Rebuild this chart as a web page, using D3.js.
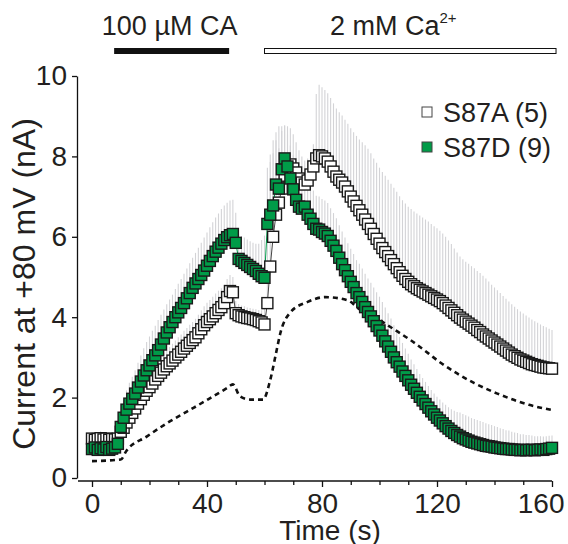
<!DOCTYPE html>
<html>
<head>
<meta charset="utf-8">
<script src="https://cdn.jsdelivr.net/npm/d3@7"></script>
<style>
body { margin: 0; background: #fff; }
svg text { font-family: "Liberation Sans", Arial, sans-serif; fill: #231f20; }
</style>
</head>
<body>
<div id="chart"></div>
<script>
// sample times (s), one sweep per second
var times = d3.range(0, 161);

// S87A (5) mean current (nA) and upward SEM
var s87aMean = [
	0.98, 0.95, 0.97, 0.99, 0.96, 0.98, 0.95, 0.97, 0.96, 0.98,
	1.15, 1.25, 1.38, 1.50, 1.62, 1.73, 1.85, 1.96, 2.07, 2.17,
	2.26, 2.35, 2.45, 2.54, 2.62, 2.70, 2.78, 2.85, 2.92, 3.00,
	3.07, 3.14, 3.22, 3.29, 3.36, 3.43, 3.50, 3.60, 3.70, 3.80,
	3.88, 3.95, 4.02, 4.10, 4.18, 4.25, 4.35, 4.50, 4.65, 4.62,
	4.10, 4.05, 4.02, 4.00, 3.98, 3.97, 3.95, 3.93, 3.90, 3.87,
	3.82, 4.35, 5.26, 6.00, 6.55, 6.85, 7.20, 7.52, 7.70, 7.80,
	7.70, 7.60, 7.45, 7.35, 7.30, 7.40, 7.55, 7.75, 7.95, 8.03,
	8.00, 7.95, 7.87, 7.75, 7.62, 7.50, 7.42, 7.35, 7.25, 7.13,
	7.00, 6.88, 6.77, 6.66, 6.55, 6.43, 6.32, 6.20, 6.07, 5.95,
	5.83, 5.72, 5.62, 5.52, 5.42, 5.32, 5.22, 5.12, 5.03, 4.95,
	4.88, 4.82, 4.77, 4.72, 4.68, 4.64, 4.60, 4.56, 4.52, 4.48,
	4.44, 4.40, 4.35, 4.29, 4.23, 4.17, 4.11, 4.05, 3.99, 3.94,
	3.89, 3.84, 3.79, 3.74, 3.68, 3.63, 3.57, 3.52, 3.47, 3.42,
	3.37, 3.32, 3.27, 3.22, 3.17, 3.12, 3.07, 3.03, 2.99, 2.95,
	2.92, 2.89, 2.86, 2.83, 2.81, 2.79, 2.77, 2.75, 2.74, 2.73, 2.72
];
var s87aErr = [
	0.15, 0.16, 0.15, 0.17, 0.16, 0.15, 0.16, 0.17, 0.16, 0.18,
	0.22, 0.25, 0.28, 0.30, 0.32, 0.33, 0.34, 0.35, 0.36, 0.37,
	0.38, 0.38, 0.39, 0.39, 0.40, 0.40, 0.41, 0.41, 0.42, 0.42,
	0.43, 0.43, 0.44, 0.44, 0.45, 0.45, 0.46, 0.46, 0.47, 0.47,
	0.48, 0.48, 0.49, 0.49, 0.48, 0.47, 0.46, 0.45, 0.40, 0.38,
	0.30, 0.28, 0.27, 0.27, 0.26, 0.26, 0.26, 0.27, 0.28, 0.30,
	0.40, 1.50, 2.60, 2.40, 2.05, 1.90, 1.55, 1.25, 1.05, 0.90,
	0.85, 0.75, 0.70, 0.65, 0.60, 0.55, 0.50, 0.55, 1.60, 1.75,
	1.72, 1.70, 1.70, 1.70, 1.70, 1.69, 1.68, 1.67, 1.66, 1.68,
	1.70, 1.72, 1.74, 1.76, 1.80, 1.85, 1.87, 1.88, 1.88, 1.89,
	1.89, 1.89, 1.90, 1.90, 1.90, 1.90, 1.90, 1.89, 1.88, 1.88,
	1.87, 1.87, 1.86, 1.86, 1.85, 1.84, 1.83, 1.82, 1.80, 1.78,
	1.77, 1.75, 1.73, 1.71, 1.68, 1.65, 1.60, 1.56, 1.52, 1.50,
	1.49, 1.49, 1.48, 1.48, 1.47, 1.47, 1.46, 1.44, 1.42, 1.39,
	1.37, 1.35, 1.33, 1.31, 1.29, 1.27, 1.25, 1.23, 1.21, 1.19,
	1.17, 1.15, 1.13, 1.11, 1.09, 1.07, 1.05, 1.03, 1.01, 0.98, 0.96
];

// S87D (9) mean current (nA) and upward SEM
var s87dMean = [
	0.72, 0.76, 0.70, 0.74, 0.71, 0.77, 0.70, 0.73, 0.76, 0.85,
	1.27, 1.50, 1.70, 1.85, 1.97, 2.10, 2.25, 2.40, 2.55, 2.68,
	2.80, 2.93, 3.05, 3.18, 3.32, 3.47, 3.62, 3.75, 3.88, 4.00,
	4.12, 4.23, 4.35, 4.47, 4.60, 4.73, 4.84, 4.95, 5.05, 5.16,
	5.28, 5.40, 5.52, 5.63, 5.73, 5.83, 5.92, 5.99, 6.04, 6.07,
	5.85, 5.45, 5.40, 5.35, 5.30, 5.25, 5.20, 5.15, 5.08, 5.02,
	4.98, 6.32, 6.55, 6.78, 7.30, 7.20, 7.68, 7.95, 7.75, 7.45,
	7.18, 6.92, 6.75, 6.70, 6.75, 6.55, 6.45, 6.32, 6.20, 6.18,
	6.12, 6.08, 6.02, 5.90, 5.78, 5.65, 5.48, 5.32, 5.17, 5.02,
	4.88, 4.75, 4.60, 4.50, 4.38, 4.25, 4.13, 4.02, 3.90, 3.78,
	3.67, 3.54, 3.40, 3.27, 3.14, 3.00, 2.88, 2.77, 2.65, 2.54,
	2.43, 2.32, 2.22, 2.12, 2.02, 1.93, 1.84, 1.75, 1.66, 1.58,
	1.50, 1.43, 1.36, 1.29, 1.23, 1.17, 1.12, 1.07, 1.03, 0.99,
	0.96, 0.93, 0.90, 0.88, 0.86, 0.84, 0.82, 0.80, 0.79, 0.78,
	0.76, 0.75, 0.74, 0.73, 0.72, 0.72, 0.71, 0.70, 0.70, 0.69,
	0.70, 0.69, 0.70, 0.70, 0.69, 0.70, 0.71, 0.70, 0.72, 0.73, 0.75
];
var s87dErr = [
	0.20, 0.22, 0.18, 0.20, 0.21, 0.19, 0.20, 0.22, 0.20, 0.25,
	0.35, 0.42, 0.48, 0.52, 0.55, 0.58, 0.62, 0.65, 0.68, 0.70,
	0.72, 0.73, 0.74, 0.75, 0.74, 0.72, 0.70, 0.69, 0.68, 0.70,
	0.71, 0.72, 0.73, 0.74, 0.74, 0.75, 0.76, 0.78, 0.80, 0.82,
	0.83, 0.84, 0.84, 0.85, 0.85, 0.86, 0.86, 0.86, 0.86, 0.85,
	0.75, 0.62, 0.62, 0.63, 0.63, 0.64, 0.65, 0.68, 0.75, 0.90,
	1.05, 1.40, 1.50, 1.30, 1.10, 1.00, 0.95, 0.82, 0.80, 0.82,
	0.85, 0.85, 0.86, 0.85, 0.84, 0.84, 0.83, 0.83, 0.82, 0.82,
	0.82, 0.82, 0.82, 0.81, 0.81, 0.81, 0.81, 0.81, 0.81, 0.82,
	0.82, 0.82, 0.82, 0.83, 0.83, 0.83, 0.83, 0.84, 0.84, 0.84,
	0.84, 0.84, 0.84, 0.83, 0.83, 0.80, 0.77, 0.74, 0.71, 0.68,
	0.66, 0.63, 0.61, 0.59, 0.57, 0.56, 0.55, 0.54, 0.53, 0.52,
	0.52, 0.52, 0.52, 0.53, 0.53, 0.54, 0.55, 0.57, 0.60, 0.60,
	0.60, 0.60, 0.59, 0.59, 0.58, 0.58, 0.57, 0.56, 0.55, 0.54,
	0.53, 0.52, 0.50, 0.49, 0.47, 0.46, 0.44, 0.43, 0.42, 0.40,
	0.39, 0.38, 0.37, 0.36, 0.35, 0.34, 0.33, 0.33, 0.32, 0.32, 0.31
];

// dashed trace
var dashTimes = [0, 10, 12, 19, 26, 33, 40, 47, 49, 51.5, 55, 59.5, 62, 64, 65.5, 69, 75, 81, 89, 93, 99, 105, 111, 117, 121, 127, 133, 141, 152, 160];
var dashVals = [0.42, 0.46, 0.68, 1.03, 1.36, 1.65, 1.94, 2.24, 2.33, 2.03, 1.95, 1.95, 2.44, 3.1, 3.6, 4.12, 4.38, 4.5, 4.42, 4.2, 3.97, 3.7, 3.42, 3.1, 2.88, 2.6, 2.36, 2.1, 1.82, 1.69];

// application bars
var treatLabels = ["100 µM CA", "2 mM Ca"];
var treatStart = [7.7, 60];
var treatEnd = [47.7, 161.4];

var seriesNames = ["S87A (5)", "S87D (9)"];
var xTicks = d3.range(0, 161, 10);
var yTicks = [0, 2, 4, 6, 8, 10];

var green = "#009b48";

var svg = d3.select("#chart").append("svg")
	.attr("width", 568)
	.attr("height", 544);

var x = d3.scaleLinear().domain([0, 160]).range([92, 552]);
var y = d3.scaleLinear().domain([0, 10]).range([478, 76]);

var s87a = times.map(function(t, i){ return {t: t, v: s87aMean[i], e: s87aErr[i]}; });
var s87d = times.map(function(t, i){ return {t: t, v: s87dMean[i], e: s87dErr[i]}; });

// treatment bars on top
svg.append("rect")
	.attr("x", x(treatStart[0])).attr("y", 48)
	.attr("width", x(treatEnd[0]) - x(treatStart[0])).attr("height", 6)
	.attr("fill", "#111");
svg.append("rect")
	.attr("x", x(treatStart[1])).attr("y", 48.5)
	.attr("width", x(treatEnd[1]) - x(treatStart[1])).attr("height", 5)
	.attr("fill", "#fff").attr("stroke", "#111").attr("stroke-width", 1);

svg.append("text")
	.attr("x", (x(treatStart[0]) + x(treatEnd[0])) / 2 - 2).attr("y", 35)
	.attr("text-anchor", "middle").style("font-size", "27px")
	.text(treatLabels[0]);
var caText = svg.append("text")
	.attr("x", 330).attr("y", 35)
	.style("font-size", "27px")
	.text(treatLabels[1]);
caText.append("tspan").attr("dy", -12).style("font-size", "15px").text("2+");

// error bars (upward only)
var errs = svg.append("g").attr("stroke", "#d3d3d6").attr("stroke-width", 1.1);
[s87a, s87d].forEach(function(s){
	errs.selectAll(null).data(s).enter().append("line")
		.attr("x1", function(d){ return x(d.t); })
		.attr("x2", function(d){ return x(d.t); })
		.attr("y1", function(d){ return y(d.v); })
		.attr("y2", function(d){ return y(d.v + d.e); });
});

// dashed trace
svg.append("path")
	.datum(dashTimes.map(function(t, i){ return [t, dashVals[i]]; }))
	.attr("fill", "none").attr("stroke", "#111")
	.attr("stroke-width", 2.6).attr("stroke-dasharray", "5,4")
	.attr("d", d3.line()
		.x(function(d){ return x(d[0]); })
		.y(function(d){ return y(d[1]); })
		.curve(d3.curveMonotoneX));

var line = d3.line()
	.x(function(d){ return x(d.t); })
	.y(function(d){ return y(d.v); });

svg.append("path").datum(s87a)
	.attr("fill", "none").attr("stroke", "#444").attr("stroke-width", 1)
	.attr("d", line);
svg.append("path").datum(s87d)
	.attr("fill", "none").attr("stroke", green).attr("stroke-width", 1)
	.attr("d", line);

var sq = 11;
function squares(data, fill){
	svg.append("g").selectAll("rect").data(data).enter().append("rect")
		.attr("x", function(d){ return x(d.t) - sq / 2; })
		.attr("y", function(d){ return y(d.v) - sq / 2; })
		.attr("width", sq).attr("height", sq)
		.attr("fill", fill).attr("stroke", "#1a1a1a").attr("stroke-width", 1.4);
}
squares(s87a, "#fff");
squares(s87d, green);

// axes
var yAxis = svg.append("g")
	.attr("transform", "translate(77,0)")
	.call(d3.axisLeft(y).tickValues(yTicks).tickSize(5).tickSizeOuter(0).tickPadding(5));

var xAxis = svg.append("g")
	.attr("transform", "translate(0,481)")
	.call(d3.axisBottom(x).tickValues(xTicks).tickSize(6).tickSizeOuter(0).tickPadding(6)
		.tickFormat(function(d){ return d % 40 === 0 ? d : ""; }));
xAxis.select(".domain").attr("d", "M78,0H" + x(160));
xAxis.selectAll(".tick line").attr("y2", function(d){ return d % 40 === 0 ? 6 : 4; });
// last label is pulled inside the picture, as in the figure
xAxis.selectAll(".tick text").filter(function(d){ return d === 160; })
	.attr("text-anchor", "end").attr("dx", 12);

[yAxis, xAxis].forEach(function(a){
	a.attr("font-family", null);
	a.select(".domain").attr("stroke", "#111").attr("stroke-width", 1.3);
	a.selectAll(".tick line").attr("stroke", "#111").attr("stroke-width", 1.3);
	a.selectAll(".tick text").style("font-size", "28px").attr("fill", "#231f20");
});

svg.append("text")
	.attr("x", 330).attr("y", 540)
	.attr("text-anchor", "middle").style("font-size", "28px")
	.text("Time (s)");

svg.append("text")
	.attr("transform", "translate(35,284) rotate(-90)")
	.attr("text-anchor", "middle").style("font-size", "32px")
	.text("Current at +80 mV (nA)");

// legend
var legend = svg.append("g");
var legFill = ["#fff", green];
seriesNames.forEach(function(name, i){
	var cy = 112 + i * 35;
	legend.append("rect")
		.attr("x", 422).attr("y", cy - 5)
		.attr("width", 10).attr("height", 10)
		.attr("fill", legFill[i]).attr("stroke", "#444").attr("stroke-width", 1);
	legend.append("text")
		.attr("x", 443).attr("y", cy + 9.5)
		.style("font-size", "27px")
		.text(name);
});
</script>
</body>
</html>
